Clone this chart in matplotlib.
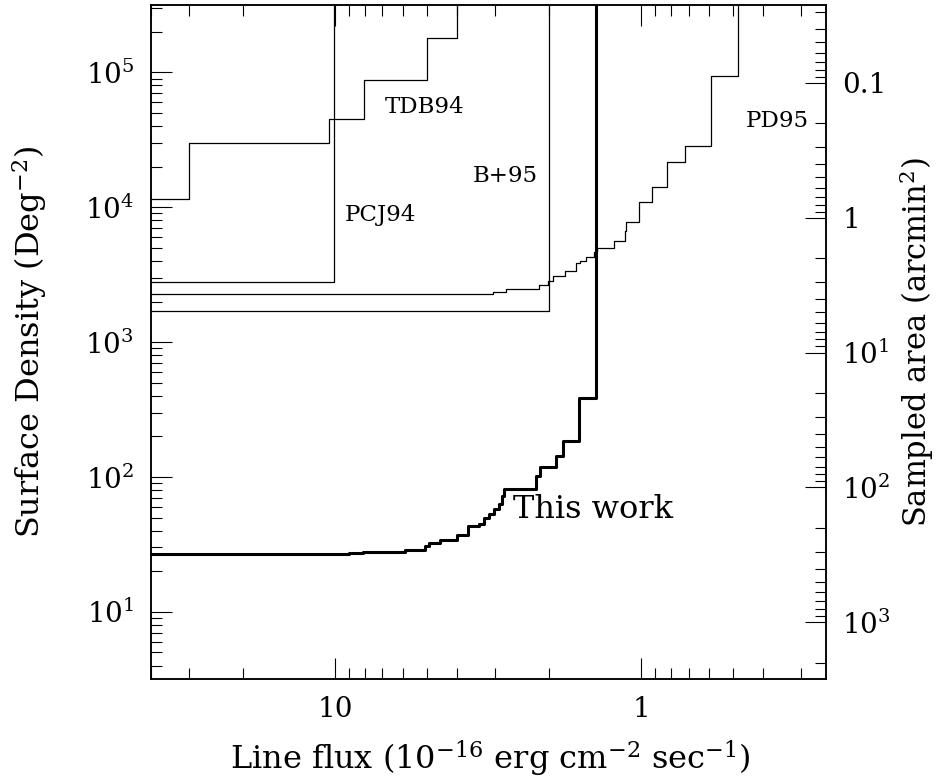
import math
import matplotlib
matplotlib.use("Agg")
import matplotlib.pyplot as plt
from matplotlib.ticker import LogLocator, FuncFormatter, NullFormatter

# ---------------- data ----------------
TOP = 1e7  # density beyond the plotted range (curves run off the top)

this_work_flux = [50, 9.0, 8.08, 5.89, 5.1, 4.95, 4.55, 4.0, 3.68, 3.40, 3.27,
                  3.15, 3.03, 2.92, 2.85, 2.80, 2.21, 2.14, 1.90, 1.80, 1.60, 1.41]
this_work_dens = [26.7, 27.1, 28.0, 28.6, 30.8, 32.2, 34.1, 37.4, 43.0, 44.9, 49.3,
                  53.2, 57.9, 63.1, 72.6, 81.5, 102, 119, 144, 184, 382, TOP]

pd95_flux = [50, 3.05, 2.77, 2.15, 2.01, 1.94, 1.77, 1.63, 1.58, 1.51, 1.43,
             1.40, 1.23, 1.13, 1.12, 1.02, 0.92, 0.827, 0.72, 0.59, 0.485]
pd95_dens = [2276, 2336, 2476, 2667, 2853, 3091, 3344, 3861, 4018, 4254, 4637,
             4994, 5658, 6718, 7743, 10890, 14250, 21600, 28700, 93500, TOP]

tdb94_flux = [50, 30.0, 10.5, 8.05, 5.0, 4.0]
tdb94_dens = [1.15e4, 2.98e4, 4.52e4, 8.73e4, 1.79e5, TOP]

pcj94_flux = [50, 10.1]
pcj94_dens = [2780, TOP]

b95_flux = [50, 2.0]
b95_dens = [1700, TOP]

labels = ["This work", "PD95", "TDB94", "PCJ94", "B+95"]

AREA_CONST = 8370.0  # sampled area (arcmin^2) = AREA_CONST / surface density
XLIM = (40, 0.25)
YLIM = (10 ** 0.5, 10 ** 5.5)

# ---------------- style ----------------
FONT = "DejaVu Serif"
plt.rcParams["font.family"] = [FONT]
plt.rcParams["mathtext.fontset"] = "custom"
plt.rcParams["mathtext.rm"] = FONT
plt.rcParams["mathtext.it"] = FONT
plt.rcParams["mathtext.default"] = "regular"

FS_TICK = 20
FS_LABEL = 23
FS_SMALL = 16.5

fig = plt.figure(figsize=(9.37, 7.78), dpi=100)
ax = fig.add_axes([0.1608, 0.1269, 0.7204, 0.8667])

thin = dict(color="black", lw=0.9, where="post")
ax.step(pd95_flux, pd95_dens, **thin)
ax.step(tdb94_flux, tdb94_dens, **thin)
ax.step(pcj94_flux, pcj94_dens, **thin)
ax.step(b95_flux, b95_dens, **thin)
ax.step(this_work_flux, this_work_dens, color="black", lw=2.2, where="post")

ax.set_xscale("log")
ax.set_yscale("log")
ax.set_xlim(*XLIM)
ax.set_ylim(*YLIM)

ax.xaxis.set_major_locator(LogLocator(base=10, numticks=20))
ax.xaxis.set_minor_locator(LogLocator(base=10, subs=range(2, 10), numticks=40))
ax.xaxis.set_major_formatter(FuncFormatter(lambda v, p: f"{v:g}"))
ax.xaxis.set_minor_formatter(NullFormatter())
ax.yaxis.set_major_locator(LogLocator(base=10, numticks=20))
ax.yaxis.set_minor_locator(LogLocator(base=10, subs=range(2, 10), numticks=40))
ax.yaxis.set_major_formatter(FuncFormatter(lambda v, p: r"$10^{%d}$" % round(math.log10(v))))
ax.yaxis.set_minor_formatter(NullFormatter())

ax.tick_params(which="both", direction="in", top=True, right=False, width=0.8,
               labelsize=FS_TICK, pad=12)
ax.tick_params(which="major", length=15)
ax.tick_params(which="minor", length=8)
for s in ax.spines.values():
    s.set_linewidth(1.1)

ax.set_xlabel(r"Line flux (10$^{-16}$ erg cm$^{-2}$ sec$^{-1}$)", fontsize=FS_LABEL)
ax.set_ylabel(r"Surface Density (Deg$^{-2}$)", fontsize=FS_LABEL)
ax.xaxis.set_label_coords(0.503, -0.088)
ax.yaxis.set_label_coords(-0.150, 0.5)

# right axis: sampled area
ax2 = ax.twinx()
ax2.set_yscale("log")
ax2.set_ylim(AREA_CONST / YLIM[0], AREA_CONST / YLIM[1])


def area_fmt(v, p):
    if v < 5:
        return f"{v:g}"
    return r"$10^{%d}$" % round(math.log10(v))


ax2.yaxis.set_major_locator(LogLocator(base=10, numticks=20))
ax2.yaxis.set_minor_locator(LogLocator(base=10, subs=range(2, 10), numticks=40))
ax2.yaxis.set_major_formatter(FuncFormatter(area_fmt))
ax2.yaxis.set_minor_formatter(NullFormatter())
ax2.tick_params(which="both", direction="in", width=0.8, labelsize=FS_TICK, pad=12)
ax2.tick_params(which="major", length=15)
ax2.tick_params(which="minor", length=8)
ax2.set_ylabel(r"Sampled area (arcmin$^{2}$)", fontsize=22, rotation=90)
ax2.yaxis.set_label_coords(1.105, 0.5)
for s in ax2.spines.values():
    s.set_linewidth(1.1)

# curve labels
ax.text(0.5372, 0.2388, labels[0], transform=ax.transAxes, fontsize=FS_LABEL,
        ha="left", va="baseline")
ax.text(0.8819, 0.8186, labels[1], transform=ax.transAxes, fontsize=FS_SMALL,
        ha="left", va="baseline")
ax.text(0.3467, 0.8394, labels[2], transform=ax.transAxes, fontsize=FS_SMALL,
        ha="left", va="baseline")
ax.text(0.2879, 0.6801, labels[3], transform=ax.transAxes, fontsize=FS_SMALL,
        ha="left", va="baseline")
ax.text(0.4775, 0.738, labels[4], transform=ax.transAxes, fontsize=FS_SMALL,
        ha="left", va="baseline")

fig.savefig("out.png", dpi=100)
